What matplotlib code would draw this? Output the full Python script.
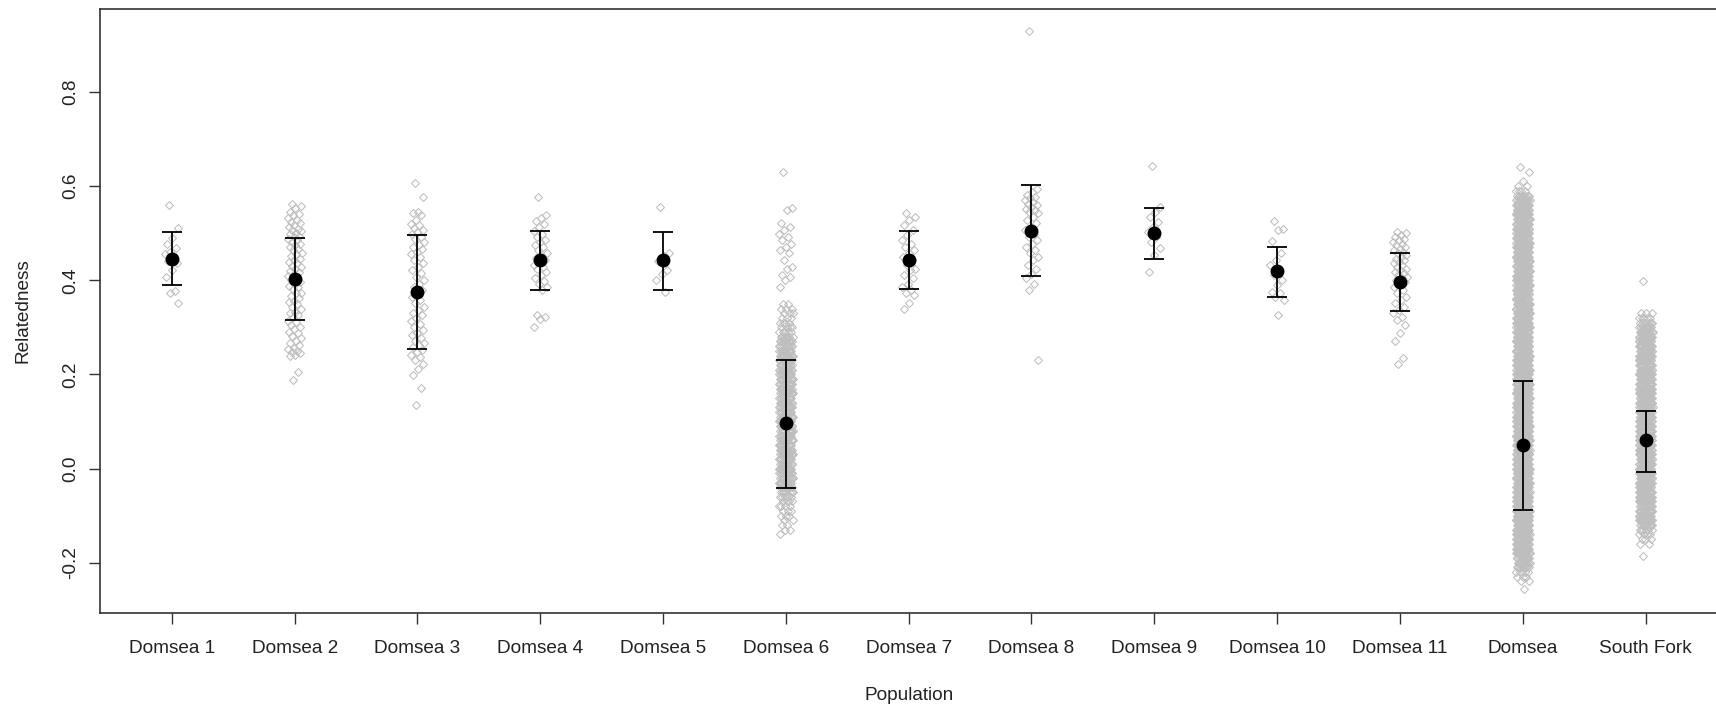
"""Relatedness by population: jittered strip chart with mean +/- SD"""

import matplotlib
matplotlib.use("Agg")
import matplotlib.pyplot as plt
import numpy as np

plt.rcParams['font.family'] = ['Liberation Sans', 'DejaVu Sans']

populations = ['Domsea 1', 'Domsea 2', 'Domsea 3', 'Domsea 4', 'Domsea 5',
               'Domsea 6', 'Domsea 7', 'Domsea 8', 'Domsea 9', 'Domsea 10',
               'Domsea 11', 'Domsea', 'South Fork']

# group summaries (mean, mean + sd, mean - sd)
means = [0.445, 0.402, 0.376, 0.443, 0.443, 0.096, 0.443, 0.505, 0.500,
         0.419, 0.397, 0.049, 0.060]
upper = [0.502, 0.489, 0.496, 0.504, 0.502, 0.230, 0.505, 0.603, 0.554,
         0.470, 0.459, 0.186, 0.123]
lower = [0.391, 0.315, 0.254, 0.379, 0.379, -0.042, 0.382, 0.410, 0.445,
         0.364, 0.335, -0.088, -0.007]

# pairwise relatedness values, small groups
domsea1 = [0.561, 0.511, 0.489, 0.478, 0.468, 0.460, 0.455, 0.450, 0.440,
           0.436, 0.422, 0.407, 0.377, 0.372, 0.351]
domsea2 = [0.563, 0.557, 0.553, 0.546, 0.541, 0.538, 0.532, 0.529, 0.524,
           0.522, 0.517, 0.514, 0.510, 0.507, 0.505, 0.501, 0.498, 0.494,
           0.492, 0.487, 0.485, 0.481, 0.477, 0.476, 0.470, 0.467, 0.464,
           0.458, 0.456, 0.451, 0.446, 0.444, 0.439, 0.437, 0.431, 0.429,
           0.425, 0.419, 0.417, 0.411, 0.409, 0.403, 0.401, 0.397, 0.393,
           0.388, 0.386, 0.381, 0.374, 0.372, 0.366, 0.363, 0.356, 0.354,
           0.349, 0.343, 0.340, 0.333, 0.331, 0.326, 0.321, 0.314, 0.311,
           0.306, 0.301, 0.297, 0.290, 0.287, 0.281, 0.277, 0.270, 0.266,
           0.262, 0.257, 0.255, 0.250, 0.247, 0.245, 0.241, 0.239, 0.205,
           0.188]
domsea3 = [0.607, 0.577, 0.545, 0.542, 0.538, 0.528, 0.520, 0.517, 0.511,
           0.507, 0.503, 0.498, 0.492, 0.487, 0.482, 0.476, 0.471, 0.466,
           0.461, 0.455, 0.450, 0.444, 0.436, 0.429, 0.422, 0.415, 0.408,
           0.400, 0.393, 0.386, 0.379, 0.372, 0.365, 0.358, 0.351, 0.344,
           0.337, 0.331, 0.326, 0.319, 0.313, 0.308, 0.301, 0.294, 0.289,
           0.284, 0.277, 0.270, 0.266, 0.262, 0.258, 0.252, 0.248, 0.241,
           0.236, 0.230, 0.222, 0.212, 0.198, 0.172, 0.136]
domsea4 = [0.576, 0.538, 0.533, 0.527, 0.520, 0.513, 0.505, 0.498, 0.492,
           0.486, 0.481, 0.475, 0.470, 0.464, 0.459, 0.453, 0.448, 0.443,
           0.438, 0.433, 0.428, 0.423, 0.417, 0.411, 0.405, 0.399, 0.392,
           0.386, 0.380, 0.326, 0.322, 0.318, 0.301]
domsea5 = [0.556, 0.457, 0.452, 0.441, 0.421, 0.414, 0.400, 0.376]
domsea7 = [0.542, 0.535, 0.528, 0.518, 0.507, 0.496, 0.485, 0.478, 0.471,
           0.464, 0.457, 0.450, 0.443, 0.432, 0.425, 0.422, 0.411, 0.404,
           0.393, 0.386, 0.379, 0.372, 0.368, 0.351, 0.340]
domsea8 = [0.930, 0.595, 0.588, 0.581, 0.578, 0.574, 0.570, 0.567, 0.563,
           0.560, 0.556, 0.552, 0.549, 0.545, 0.542, 0.535, 0.528, 0.521,
           0.514, 0.507, 0.499, 0.492, 0.485, 0.478, 0.471, 0.464, 0.457,
           0.450, 0.443, 0.432, 0.425, 0.414, 0.404, 0.393, 0.379, 0.231]
domsea9 = [0.643, 0.556, 0.545, 0.535, 0.524, 0.514, 0.503, 0.492, 0.482,
           0.468, 0.454, 0.418]
domsea10 = [0.526, 0.510, 0.506, 0.484, 0.457, 0.443, 0.432, 0.421, 0.411,
            0.400, 0.390, 0.375, 0.372, 0.365, 0.358, 0.326]
domsea11 = [0.503, 0.500, 0.496, 0.492, 0.488, 0.485, 0.481, 0.478, 0.474,
            0.471, 0.467, 0.464, 0.460, 0.457, 0.453, 0.450, 0.446, 0.443,
            0.439, 0.436, 0.432, 0.429, 0.425, 0.422, 0.418, 0.415, 0.411,
            0.408, 0.404, 0.400, 0.397, 0.393, 0.386, 0.379, 0.372, 0.365,
            0.358, 0.351, 0.344, 0.337, 0.330, 0.322, 0.315, 0.304, 0.287,
            0.270, 0.234, 0.223]

# large groups: value levels and how many pairs sit at each level
domsea6_levels = [0.630, 0.553, 0.549, 0.521, 0.514, 0.507, 0.499, 0.492,
                  0.485, 0.478, 0.471, 0.464, 0.457, 0.443, 0.429, 0.425,
                  0.411, 0.407, 0.400, 0.386,
                  0.35, 0.34, 0.33, 0.32, 0.31, 0.30, 0.29, 0.28, 0.27, 0.26,
                  0.25, 0.24, 0.23, 0.22, 0.21, 0.20, 0.19, 0.18, 0.17, 0.16,
                  0.15, 0.14, 0.13, 0.12, 0.11, 0.10, 0.09, 0.08, 0.07, 0.06,
                  0.05, 0.04, 0.03, 0.02, 0.01, 0.00, -0.01, -0.02, -0.03,
                  -0.04, -0.05, -0.06, -0.07, -0.08, -0.09, -0.10, -0.11,
                  -0.12, -0.13, -0.14]
domsea6_counts = [1, 1, 1, 1, 1, 1, 1, 1, 1, 1, 1, 1, 1, 1, 1, 1, 1, 1, 1, 1,
                  2, 3, 3, 3, 4, 4, 5, 7, 10, 10,
                  11, 11, 11, 11, 11, 11, 11, 11, 11, 11,
                  11, 11, 11, 11, 11, 11, 11, 11, 11, 11,
                  11, 11, 11, 11, 11, 11, 11, 11, 10,
                  9, 7, 5, 4, 4, 3, 3, 2,
                  2, 2, 1]

domsea_levels = [0.64, 0.63, 0.61, 0.60, 0.59, 0.58, 0.57, 0.56, 0.55, 0.54,
                 0.53, 0.52, 0.51, 0.50, 0.49, 0.48, 0.47, 0.46, 0.45, 0.44,
                 0.43, 0.42, 0.41, 0.40, 0.39, 0.38, 0.37, 0.36, 0.35, 0.34,
                 0.33, 0.32, 0.31, 0.30, 0.29, 0.28, 0.27, 0.26, 0.25, 0.24,
                 0.23, 0.22, 0.21, 0.20, 0.19, 0.18, 0.17, 0.16, 0.15, 0.14,
                 0.13, 0.12, 0.11, 0.10, 0.09, 0.08, 0.07, 0.06, 0.05, 0.04,
                 0.03, 0.02, 0.01, 0.00, -0.01, -0.02, -0.03, -0.04, -0.05,
                 -0.06, -0.07, -0.08, -0.09, -0.10, -0.11, -0.12, -0.13,
                 -0.14, -0.15, -0.16, -0.17, -0.18, -0.19, -0.20, -0.21,
                 -0.22, -0.23, -0.24, -0.255]
domsea_counts = [1, 1, 1, 2, 4, 8, 12, 16, 16, 16,
                 16, 16, 16, 16, 16, 16, 16, 16, 16, 16,
                 16, 16, 16, 16, 16, 16, 16, 16, 16, 16,
                 16, 16, 16, 16, 16, 16, 16, 16, 16, 16,
                 16, 16, 16, 16, 16, 16, 16, 16, 16, 16,
                 16, 16, 16, 16, 16, 16, 16, 16, 16, 16,
                 16, 16, 16, 16, 16, 16, 16, 16, 16,
                 16, 16, 16, 16, 16, 16, 16, 16,
                 16, 16, 16, 16, 16, 12, 10, 8,
                 5, 3, 2, 1]

southfork_levels = [0.398, 0.33, 0.32, 0.31, 0.30, 0.29, 0.28, 0.27, 0.26,
                    0.25, 0.24, 0.23, 0.22, 0.21, 0.20, 0.19, 0.18, 0.17,
                    0.16, 0.15, 0.14, 0.13, 0.12, 0.11, 0.10, 0.09, 0.08,
                    0.07, 0.06, 0.05, 0.04, 0.03, 0.02, 0.01, 0.00, -0.01,
                    -0.02, -0.03, -0.04, -0.05, -0.06, -0.07, -0.08, -0.09,
                    -0.10, -0.11, -0.12, -0.13, -0.14, -0.15, -0.16, -0.185]
southfork_counts = [1, 3, 5, 6, 9, 14, 14, 14, 14,
                    14, 14, 14, 14, 14, 14, 14, 14, 14,
                    14, 14, 14, 14, 14, 14, 14, 14, 14,
                    14, 14, 14, 14, 14, 14, 14, 14, 14,
                    14, 14, 14, 14, 14, 14, 14, 14,
                    14, 14, 10, 6, 4, 3, 2, 1]

groups = [domsea1, domsea2, domsea3, domsea4, domsea5,
          np.repeat(domsea6_levels, domsea6_counts),
          domsea7, domsea8, domsea9, domsea10, domsea11,
          np.repeat(domsea_levels, domsea_counts),
          np.repeat(southfork_levels, southfork_counts)]

fig = plt.figure(figsize=(17.16, 7.06), dpi=100)
ax = fig.add_axes([99.6 / 1716, 93 / 706, 1619.4 / 1716, 604.2 / 706])

jitter = 0.057
for i, vals in enumerate(groups):
    vals = np.asarray(vals, dtype=float)
    k = np.arange(len(vals))
    # deterministic horizontal spread (golden-ratio sequence) in place of random jitter
    offs = ((k * 0.6180339887 + 0.31) % 1.0 - 0.5) * 2 * jitter
    ax.plot(i + 1 + offs, vals, linestyle='none', marker='D', markersize=4.1,
            markerfacecolor='none', markeredgecolor='#BEBEBE',
            markeredgewidth=0.75, zorder=2)

pos = np.arange(1, len(populations) + 1)
m = np.array(means)
yerr = [m - np.array(lower), np.array(upper) - m]
ax.errorbar(pos, m, yerr=yerr, fmt='o', color='black', markersize=9,
            elinewidth=1.3, capsize=7.2, capthick=1.3, zorder=3)

ax.set_xlim(0.412, 13.598)
ax.set_ylim(-0.307, 0.977)
ax.set_xticks(pos)
ax.set_xticklabels(populations)
ax.set_yticks([-0.2, 0.0, 0.2, 0.4, 0.6, 0.8])
ax.set_yticklabels(['-0.2', '0.0', '0.2', '0.4', '0.6', '0.8'],
                   rotation=90, va='center')
ax.tick_params(axis='both', labelsize=13.7, length=8, width=1.0,
               color='#333333', labelcolor='#222222')
ax.tick_params(axis='x', pad=11.4)
ax.tick_params(axis='y', pad=6.6)
for s in ax.spines.values():
    s.set_linewidth(1.2)
    s.set_color('#333333')

ax.set_xlabel('Population', fontsize=13.7, color='#222222', labelpad=21.6)
ax.set_ylabel('Relatedness', fontsize=13.7, color='#222222', labelpad=22)

fig.savefig('out.png', dpi=100)
